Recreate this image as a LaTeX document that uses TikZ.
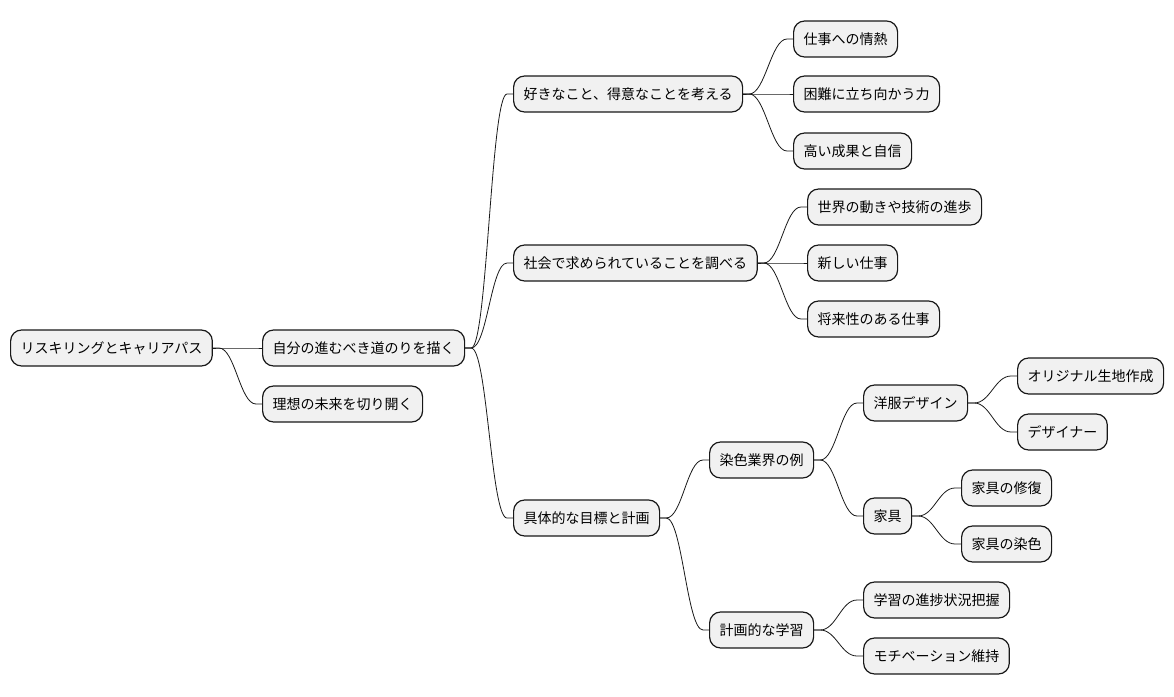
\documentclass[tikz,border=0pt]{standalone}
\usepackage{fontspec}
\setmainfont{Noto Sans CJK JP}
\usetikzlibrary{positioning}
\definecolor{boxfill}{HTML}{F1F1F1}
\definecolor{boxline}{HTML}{181818}

\begin{document}
\begin{tikzpicture}[
    x = 1pt, y = -1pt,
    N/.style = {draw=boxline, fill=boxfill, line width=1.2pt,
                rounded corners=11pt, minimum height=36pt,
                inner xsep=10pt, anchor=west,
                font=\fontsize{14}{16}\selectfont},
    B/.style = {draw=boxline, line width=0.8pt,
                to path={(\tikztostart.east) -- ++(6,0)
                         .. controls +(16,0) and +(-16,0) ..
                         ([xshift=-6pt]\tikztotarget.west)
                         -- (\tikztotarget.west)}}
                    ]
\useasboundingbox (0,0) rectangle (1174,696);
% level 0 and 1
\node (root) [N] at (10,348)  {リスキリングとキャリアパス};
\node (path) [N] at (262,348) {自分の進むべき道のりを描く};
\node (idea) [N] at (262,404) {理想の未来を切り開く};
% level 2
\node (like) [N] at (513,94)  {好きなこと、得意なことを考える};
\node (need) [N] at (513,263) {社会で求められていることを調べる};
\node (plan) [N] at (513,518) {具体的な目標と計画};
% level 3
\node (pass) [N] at (793,39)  {仕事への情熱};
\node (hard) [N] at (793,94)  {困難に立ち向かう力};
\node (conf) [N] at (793,151) {高い成果と自信};
\node (world) [N] at (807,207) {世界の動きや技術の進歩};
\node (newj)  [N] at (807,263) {新しい仕事};
\node (futj)  [N] at (807,319) {将来性のある仕事};
\node (dye)   [N] at (709,460) {染色業界の例};
\node (study) [N] at (709,630) {計画的な学習};
% level 4
\node (cloth) [N] at (863,403) {洋服デザイン};
\node (furn)  [N] at (863,516) {家具};
\node (prog)  [N] at (863,600) {学習の進捗状況把握};
\node (moti)  [N] at (863,656) {モチベーション維持};
% level 5
\node (fabric) [N] at (1017,376) {オリジナル生地作成};
\node (design) [N] at (1017,432) {デザイナー};
\node (repair) [N] at (961,488)  {家具の修復};
\node (dyeing) [N] at (961,544)  {家具の染色};
%
\foreach \p/\c in {root/path, root/idea,
                   path/like, path/need, path/plan,
                   like/pass, like/hard, like/conf,
                   need/world, need/newj, need/futj,
                   plan/dye, plan/study,
                   dye/cloth, dye/furn,
                   cloth/fabric, cloth/design,
                   furn/repair, furn/dyeing,
                   study/prog, study/moti}
    \draw[B] (\p) to (\c);
\end{tikzpicture}
\end{document}
